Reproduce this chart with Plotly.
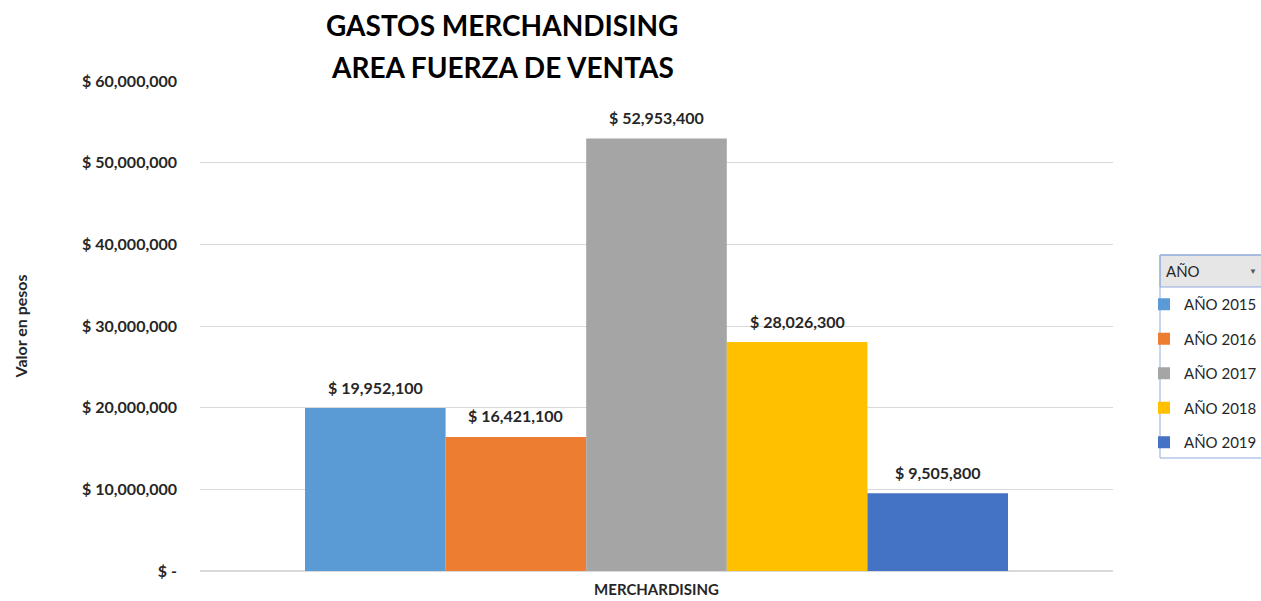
import plotly.graph_objects as go

category = ["MERCHARDISING"]
years = ["AÑO 2015", "AÑO 2016", "AÑO 2017", "AÑO 2018", "AÑO 2019"]
values = [19952100, 16421100, 52953400, 28026300, 9505800]
colors = ["#5B9BD5", "#ED7D31", "#A5A5A5", "#FFC000", "#4472C4"]
tick_vals = [0, 10000000, 20000000, 30000000, 40000000, 50000000, 60000000]
tick_text = ["$ -", "$ 10,000,000", "$ 20,000,000", "$ 30,000,000",
             "$ 40,000,000", "$ 50,000,000", "$ 60,000,000"]
title_lines = ["GASTOS MERCHANDISING", "AREA FUERZA DE VENTAS"]

FONT = "Lato"
BARGAP = 0.23

fig = go.Figure()
for yr, v, c in zip(years, values, colors):
    fig.add_trace(go.Bar(
        x=category, y=[v], name=yr, marker=dict(color=c, line=dict(width=0)),
        legendgroup=yr, cliponaxis=False,
    ))

# data labels above each bar (positioned from the bar layout on the category axis)
n = len(values)
bw = (1 - BARGAP) / n
for i, v in enumerate(values):
    fig.add_annotation(x=-0.5 + BARGAP / 2 + bw * (i + 0.5), y=v, xref="x", yref="y",
                       text=f"<b>$ {v:,}</b>", showarrow=False, yshift=21,
                       yanchor="middle", xanchor="center",
                       font=dict(family=FONT, size=16, color="#262626"))

fig.update_layout(
    width=1261, height=601,
    margin=dict(l=200, r=148, t=81, b=30, autoexpand=False),
    paper_bgcolor="white", plot_bgcolor="white",
    barmode="group", bargap=BARGAP, bargroupgap=0,
    font=dict(family=FONT, color="#262626"),
    xaxis=dict(showgrid=False, showline=False, ticks="", ticklabelstandoff=8,
               tickfont=dict(family=FONT, size=15, color="#262626", weight="bold")),
    yaxis=dict(range=[0, 60000000], tickvals=tick_vals, ticktext=tick_text,
               showgrid=True, gridcolor="#D9D9D9", gridwidth=1, zeroline=True,
               zerolinecolor="#D9D9D9", ticks="", ticklabelstandoff=22,
               tickfont=dict(family=FONT, size=16, color="#262626", weight="bold"),
               title=dict(text="<b>Valor en pesos</b>", standoff=50,
                          font=dict(family=FONT, size=16, color="#262626"))),
    legend=dict(x=(1144 - 200) / 913, xanchor="left", y=(571 - 288) / 490, yanchor="top",
                font=dict(family=FONT, size=15, color="#262626"),
                traceorder="grouped", tracegroupgap=12, bgcolor="rgba(0,0,0,0)",
                itemwidth=30),
    showlegend=True,
)

# title lines
for line, py in zip(title_lines, [25, 67]):
    fig.add_annotation(xref="paper", yref="paper", x=(502 - 200) / 913, y=(571 - py) / 490,
                       text=f"<b>{line}</b>", showarrow=False, xanchor="center",
                       yanchor="middle", font=dict(family=FONT, size=28, color="black"))

# legend frame and header
x0 = (1160 - 200) / 913
x1 = (1275 - 200) / 913
fig.add_shape(type="rect", xref="paper", yref="paper", x0=x0, x1=x1,
              y0=(571 - 458) / 490, y1=(571 - 255) / 490,
              line=dict(color="#8EA9DB", width=1), fillcolor="rgba(0,0,0,0)")
fig.add_shape(type="rect", xref="paper", yref="paper", x0=x0, x1=x1,
              y0=(571 - 287) / 490, y1=(571 - 255) / 490,
              line=dict(color="#8EA9DB", width=1), fillcolor="#E7E6E6", layer="below")
fig.add_annotation(xref="paper", yref="paper", x=(1164 - 200) / 913, y=(571 - 271) / 490,
                   text="AÑO", showarrow=False, xanchor="left", yanchor="middle",
                   font=dict(family=FONT, size=15, color="#262626"))
fig.add_annotation(xref="paper", yref="paper", x=(1253 - 200) / 913, y=(571 - 271) / 490,
                   text="▼", showarrow=False, xanchor="center", yanchor="middle",
                   font=dict(family=FONT, size=8, color="#595959"))

fig.write_html("out.html")
